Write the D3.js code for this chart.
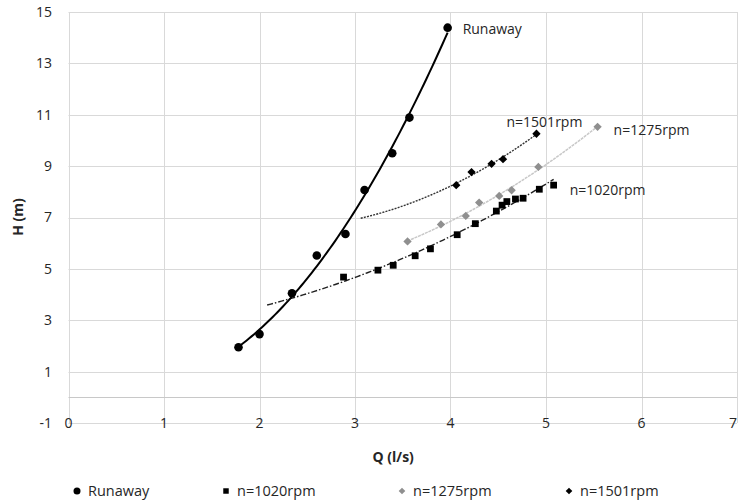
<!DOCTYPE html>
<html>
<head>
<meta charset="utf-8">
<script src="https://cdn.jsdelivr.net/npm/d3@7"></script>
<style>
body { margin: 0; background: #fff; }
text { font-family: "Open Sans", sans-serif; fill: #262626; }
</style>
</head>
<body>
<div id="chart"></div>
<script>
// values
var runawayQ = [1.78, 2.00, 2.34, 2.60, 2.90, 3.10, 3.39, 3.57, 3.97];
var runawayH = [1.95, 2.46, 4.05, 5.52, 6.36, 8.07, 9.50, 10.89, 14.39];

var q1020 = [2.88, 3.24, 3.40, 3.63, 3.79, 4.07, 4.26, 4.48, 4.54, 4.59, 4.68, 4.76, 4.93, 5.08];
var h1020 = [4.68, 4.95, 5.14, 5.51, 5.78, 6.33, 6.76, 7.25, 7.48, 7.62, 7.72, 7.75, 8.10, 8.26];

var q1275 = [3.55, 3.90, 4.16, 4.30, 4.51, 4.64, 4.92, 5.54];
var h1275 = [6.07, 6.73, 7.06, 7.58, 7.84, 8.06, 8.97, 10.53];

var q1501 = [4.06, 4.22, 4.43, 4.55, 4.90];
var h1501 = [8.26, 8.77, 9.09, 9.27, 10.26];

var seriesNames = ['Runaway', 'n=1020rpm', 'n=1275rpm', 'n=1501rpm'];
var xTicks = [0, 1, 2, 3, 4, 5, 6, 7];
var yTicks = [-1, 1, 3, 5, 7, 9, 11, 13, 15];

var width = 739,
  height = 500;

var svg = d3.select('#chart').append('svg')
  .attr('width', width)
  .attr('height', height);

var x = d3.scaleLinear().domain([0, 7]).range([68.5, 737]);
var y = d3.scaleLinear().domain([-1, 15]).range([423, 12]);

// grid
svg.append('g').selectAll('line')
  .data(yTicks)
  .enter().append('line')
  .attr('x1', x(0)).attr('x2', x(7))
  .attr('y1', function(d) { return Math.round(y(d)) + 0.5; })
  .attr('y2', function(d) { return Math.round(y(d)) + 0.5; })
  .attr('stroke', '#d9d9d9');

svg.append('g').selectAll('line')
  .data(xTicks)
  .enter().append('line')
  .attr('x1', function(d) { return Math.round(x(d)) + 0.5; })
  .attr('x2', function(d) { return Math.round(x(d)) + 0.5; })
  .attr('y1', y(15)).attr('y2', y(-1))
  .attr('stroke', '#d9d9d9');

// horizontal axis crosses at H = 0
svg.append('line')
  .attr('x1', x(0)).attr('x2', x(7))
  .attr('y1', Math.round(y(0)) + 0.5).attr('y2', Math.round(y(0)) + 0.5)
  .attr('stroke', '#c8c8c8');

// tick labels
svg.append('g').selectAll('text')
  .data(yTicks)
  .enter().append('text')
  .attr('x', 52)
  .attr('y', function(d) { return y(d); })
  .attr('dy', '0.35em')
  .attr('text-anchor', 'end')
  .style('font-size', '14px')
  .text(function(d) { return d; });

svg.append('g').selectAll('text')
  .data(xTicks)
  .enter().append('text')
  .attr('x', function(d) { return d === 7 ? x(d) - 4 : x(d); })
  .attr('y', y(-1))
  .attr('dy', '0.35em')
  .attr('text-anchor', 'middle')
  .style('font-size', '14px')
  .text(function(d) { return d; });

// axis titles
svg.append('text')
  .attr('x', x(3.4))
  .attr('y', 457)
  .attr('dy', '0.35em')
  .attr('text-anchor', 'middle')
  .style('font-size', '14px')
  .style('font-weight', 'bold')
  .text('Q (l/s)');

svg.append('text')
  .attr('transform', 'translate(18,217) rotate(-90)')
  .attr('dy', '0.35em')
  .attr('text-anchor', 'middle')
  .style('font-size', '14px')
  .style('font-weight', 'bold')
  .text('H (m)');

// 2nd order least squares trendline, like the spreadsheet does
function polyfit(xs, ys) {
  var s = [0, 0, 0, 0, 0], t = [0, 0, 0];
  xs.forEach(function(xv, i) {
    var p = 1;
    for (var k = 0; k < 5; k++) {
      s[k] += p;
      if (k < 3) t[k] += p * ys[i];
      p *= xv;
    }
  });
  var m = [[s[0], s[1], s[2], t[0]], [s[1], s[2], s[3], t[1]], [s[2], s[3], s[4], t[2]]];
  for (var i = 0; i < 3; i++) {
    for (var j = i + 1; j < 3; j++) {
      var f = m[j][i] / m[i][i];
      for (var k = i; k < 4; k++) m[j][k] -= f * m[i][k];
    }
  }
  var c = [0, 0, 0];
  for (var i2 = 2; i2 >= 0; i2--) {
    var v = m[i2][3];
    for (var k2 = i2 + 1; k2 < 3; k2++) v -= m[i2][k2] * c[k2];
    c[i2] = v / m[i2][i2];
  }
  return function(q) { return c[0] + c[1] * q + c[2] * q * q; };
}

var line = d3.line()
  .x(function(d) { return x(d[0]); })
  .y(function(d) { return y(d[1]); });

function trend(qs, hs, back, style) {
  var fit = polyfit(qs, hs);
  var q0 = d3.min(qs) - back, q1 = d3.max(qs);
  var pts = d3.range(0, 81).map(function(i) {
    var q = q0 + (q1 - q0) * i / 80;
    return [q, fit(q)];
  });
  svg.append('path')
    .datum(pts)
    .attr('d', line)
    .attr('fill', 'none')
    .attr('stroke', style.color)
    .attr('stroke-width', style.width)
    .attr('stroke-dasharray', style.dash);
}

trend(q1275, h1275, 0, { color: '#c8c8c8', width: 1.5, dash: '3,0.8' });
trend(q1020, h1020, 0.8, { color: '#222', width: 1.4, dash: '6,2,1.5,2' });
trend(q1501, h1501, 1.0, { color: '#333', width: 1.4, dash: '2,1.2' });
trend(runawayQ, runawayH, 0, { color: '#000', width: 2, dash: null });

// markers
var diamond = d3.symbol().type(d3.symbolDiamond2).size(44);
var square = d3.symbol().type(d3.symbolSquare).size(46);

function points(qs, hs, path, color) {
  svg.append('g').selectAll('path')
    .data(qs)
    .enter().append('path')
    .attr('d', path)
    .attr('transform', function(d, i) { return 'translate(' + x(d) + ',' + y(hs[i]) + ')'; })
    .attr('fill', color);
}

svg.append('g').selectAll('circle')
  .data(runawayQ)
  .enter().append('circle')
  .attr('cx', function(d) { return x(d); })
  .attr('cy', function(d, i) { return y(runawayH[i]); })
  .attr('r', 4.3)
  .attr('fill', '#000');

points(q1020, h1020, square, '#000');
points(q1275, h1275, diamond, '#8f8f8f');
points(q1501, h1501, diamond, '#000');

// data labels at the last point of each series
function lastLabel(qs, hs, name, dx, dy, anchor) {
  var n = qs.length - 1;
  svg.append('text')
    .attr('x', x(qs[n]) + dx)
    .attr('y', y(hs[n]) + dy)
    .attr('dy', '0.35em')
    .attr('text-anchor', anchor)
    .style('font-size', '14px')
    .text(name);
}

lastLabel(runawayQ, runawayH, seriesNames[0], 15, 1, 'start');
lastLabel(q1020, h1020, seriesNames[1], 16, 5, 'start');
lastLabel(q1275, h1275, seriesNames[2], 16, 3, 'start');
lastLabel(q1501, h1501, seriesNames[3], 8, -12, 'middle');

// legend
var legendX = [77, 226, 402, 569];
var legendY = 491;
var legend = svg.append('g');

legend.append('circle').attr('cx', legendX[0]).attr('cy', legendY).attr('r', 3.5).attr('fill', '#000');
legend.append('path').attr('d', d3.symbol().type(d3.symbolSquare).size(30))
  .attr('transform', 'translate(' + legendX[1] + ',' + legendY + ')').attr('fill', '#000');
legend.append('path').attr('d', d3.symbol().type(d3.symbolDiamond2).size(28))
  .attr('transform', 'translate(' + legendX[2] + ',' + legendY + ')').attr('fill', '#8f8f8f');
legend.append('path').attr('d', d3.symbol().type(d3.symbolDiamond2).size(28))
  .attr('transform', 'translate(' + legendX[3] + ',' + legendY + ')').attr('fill', '#000');

legend.selectAll('text')
  .data(seriesNames)
  .enter().append('text')
  .attr('x', function(d, i) { return legendX[i] + 11; })
  .attr('y', legendY)
  .attr('dy', '0.35em')
  .style('font-size', '14.5px')
  .text(function(d) { return d; });
</script>
</body>
</html>
